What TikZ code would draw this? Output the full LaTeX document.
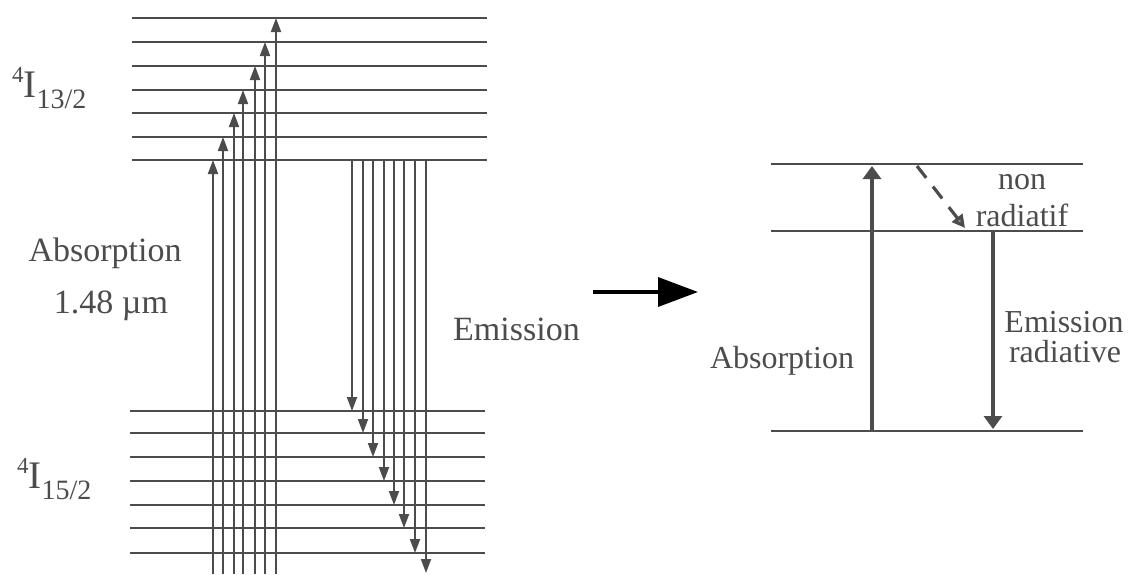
\documentclass[tikz,border=0pt]{standalone}
\usepackage{fontspec}
\setmainfont{Liberation Serif}
\usetikzlibrary{arrows.meta}
\definecolor{ink}{gray}{0.3}
\begin{document}
\begin{tikzpicture}[x=1pt,y=-1pt,
  lvl/.style={draw=ink,line width=2.2pt},
  thin arrow/.style={draw=ink,line width=1.9pt,-{Triangle[length=14pt,width=10pt]}},
  rlvl/.style={draw=ink,line width=2.8pt},
  thick arrow/.style={draw=ink,line width=4.5pt,-{Triangle[length=13pt,width=18pt]}},
  dash arrow/.style={draw=ink,line width=3.2pt,dash pattern=on 15pt off 11pt,-{Triangle[length=13pt,width=13pt,fill=black!40]}},
  big/.style={text=ink,inner sep=0pt,font=\fontsize{34}{40}\selectfont},
  mid/.style={text=ink,inner sep=0pt,font=\fontsize{32}{36}\selectfont}]
\useasboundingbox[fill=white] (0,0) rectangle (1129,574);

% upper manifold 4I13/2
\foreach \y [count=\i] in {18,42,66,90,113,137,160}{
  \coordinate (u\i w) at (132,\y); \coordinate (u\i e) at (487,\y);
  \draw[lvl] (u\i w) -- (u\i e);}
% lower manifold 4I15/2
\foreach \y [count=\i] in {411,433,457,481,505,528,553}{
  \coordinate (d\i w) at (130,\y); \coordinate (d\i e) at (485,\y);
  \draw[lvl] (d\i w) -- (d\i e);}

% absorption arrows
\foreach \x/\y [count=\i] in {213/160,223/137,234/113,243/90,255/66,265/42,276/18}{
  \coordinate (a\i s) at (\x,574); \coordinate (a\i e) at (\x,\y);
  \draw[thin arrow] (a\i s) -- (a\i e);}
% emission arrows
\foreach \x/\y [count=\i] in {352/411,363/433,373/457,384/481,394/505,404/528,415/553,426/573}{
  \coordinate (e\i s) at (\x,160); \coordinate (e\i e) at (\x,\y);
  \draw[thin arrow] (e\i s) -- (e\i e);}

% left labels
\node[anchor=base west,text=ink,inner sep=0pt] (l13) at (12,97)
  {\raisebox{15pt}{\fontsize{23}{23}\selectfont 4}\fontsize{39}{39}\selectfont I\raisebox{-11pt}{\fontsize{28}{28}\selectfont 13/2}};
\node[anchor=base west,text=ink,inner sep=0pt] (l15) at (17,488)
  {\raisebox{15pt}{\fontsize{23}{23}\selectfont 4}\fontsize{39}{39}\selectfont I\raisebox{-11pt}{\fontsize{28}{28}\selectfont 15/2}};
\node[big,anchor=base] (abs1) at (105,261) {Absorption};
\node[big,anchor=base] (wl) at (111,313) {1.48 µm};
\node[big,anchor=base west] (em1) at (453,340) {Emission};

% middle arrow
\coordinate (m1) at (593,292); \coordinate (m2) at (698,292);
\draw[line width=3.5pt,-{Triangle[length=40pt,width=29pt]}] (m1) -- (m2);

% right diagram
\coordinate (r1w) at (771,164); \coordinate (r1e) at (1083,164);
\coordinate (r2w) at (771,231); \coordinate (r2e) at (1083,231);
\coordinate (r3w) at (771,431); \coordinate (r3e) at (1083,431);
\draw[rlvl] (r1w) -- (r1e);
\draw[rlvl] (r2w) -- (r2e);
\draw[rlvl] (r3w) -- (r3e);
\coordinate (ra s) at (872,431); \coordinate (ra e) at (872,166);
\draw[thick arrow] (ra s) -- (ra e);
\coordinate (re s) at (993,231); \coordinate (re e) at (993,429);
\draw[thick arrow] (re s) -- (re e);
\coordinate (rn s) at (917,166); \coordinate (rn e) at (965,228);
\draw[dash arrow] (rn s) -- (rn e);

\node[mid,anchor=base] (non) at (1022,189) {non};
\node[mid,anchor=base] (rad) at (1022,226) {radiatif};
\node[mid,anchor=base] (abs2) at (782,368) {Absorption};
\node[mid,anchor=base] (em2) at (1064,332) {Emission};
\node[mid,anchor=base] (rad2) at (1065,362) {radiative};
\end{tikzpicture}
\end{document}
